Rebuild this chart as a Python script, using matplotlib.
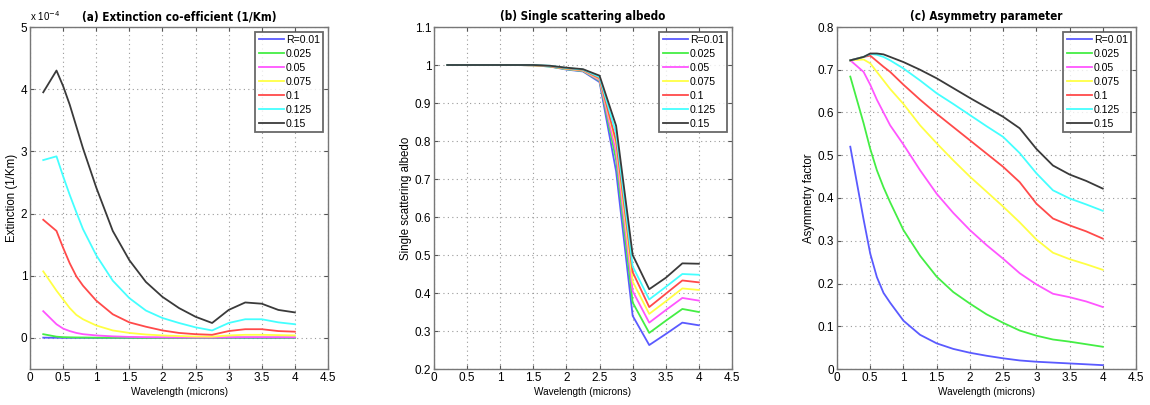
import matplotlib
matplotlib.use("Agg")
import matplotlib.pyplot as plt
from matplotlib.ticker import FuncFormatter, MultipleLocator
from matplotlib import font_manager as fm

plt.rcParams['font.family'] = ['Liberation Sans', 'DejaVu Sans']

# look for a condensed / narrow face for the titles
cond_bold = None
for f in fm.fontManager.ttflist:
    fn = f.fname.lower()
    if ('condensed' in fn or 'narrow' in fn) and 'bold' in fn and 'oblique' not in fn and 'italic' not in fn:
        cond_bold = f.fname
        break

wavelength = [0.2, 0.4, 0.5, 0.6, 0.7, 0.8, 1.0, 1.25, 1.5, 1.75, 2.0, 2.25, 2.5, 2.75, 3.0, 3.25, 3.5, 3.75, 4.0]
radii = ["R=0.01", "0.025", "0.05", "0.075", "0.1", "0.125", "0.15"]
colors = ["#5a5aff", "#44ee44", "#ff55ff", "#ffff44", "#ff4a4a", "#44ffff", "#3a3a3a"]

# (a) Extinction in units of 1e-4 1/Km
ext_001 = [0.004, 0.002, 0.001, 0.001, 0.001, 0.001, 0.0, 0.0, 0.0, 0.0, 0.0, 0.0, 0.0, 0.0, 0.001, 0.001, 0.001, 0.001, 0.001]
ext_0025 = [0.06, 0.02, 0.012, 0.009, 0.007, 0.006, 0.004, 0.003, 0.003, 0.002, 0.002, 0.002, 0.002, 0.002, 0.004, 0.005, 0.005, 0.004, 0.004]
ext_005 = [0.43, 0.22, 0.15, 0.11, 0.08, 0.06, 0.04, 0.025, 0.016, 0.012, 0.01, 0.008, 0.007, 0.006, 0.01, 0.012, 0.012, 0.011, 0.01]
ext_0075 = [1.07, 0.76, 0.62, 0.48, 0.37, 0.30, 0.20, 0.12, 0.08, 0.055, 0.04, 0.03, 0.022, 0.02, 0.04, 0.05, 0.05, 0.045, 0.04]
ext_01 = [1.90, 1.72, 1.45, 1.20, 0.99, 0.84, 0.60, 0.38, 0.25, 0.18, 0.12, 0.08, 0.06, 0.05, 0.11, 0.14, 0.14, 0.11, 0.10]
ext_0125 = [2.86, 2.92, 2.60, 2.30, 2.02, 1.75, 1.33, 0.92, 0.64, 0.44, 0.32, 0.24, 0.17, 0.12, 0.24, 0.30, 0.30, 0.25, 0.22]
ext_015 = [3.95, 4.30, 4.05, 3.75, 3.40, 3.05, 2.42, 1.72, 1.25, 0.90, 0.66, 0.48, 0.34, 0.24, 0.45, 0.57, 0.55, 0.45, 0.41]

# (b) Single scattering albedo
ssa_001 = [1.0, 1.0, 1.0, 1.0, 1.0, 1.0, 1.0, 1.0, 0.999, 0.996, 0.988, 0.983, 0.955, 0.72, 0.34, 0.263, 0.292, 0.322, 0.315]
ssa_0025 = [1.0, 1.0, 1.0, 1.0, 1.0, 1.0, 1.0, 1.0, 0.999, 0.996, 0.989, 0.984, 0.958, 0.75, 0.375, 0.295, 0.327, 0.358, 0.350]
ssa_005 = [1.0, 1.0, 1.0, 1.0, 1.0, 1.0, 1.0, 1.0, 0.999, 0.997, 0.990, 0.985, 0.960, 0.77, 0.405, 0.322, 0.355, 0.387, 0.380]
ssa_0075 = [1.0, 1.0, 1.0, 1.0, 1.0, 1.0, 1.0, 1.0, 0.999, 0.997, 0.990, 0.986, 0.963, 0.79, 0.430, 0.345, 0.378, 0.412, 0.408]
ssa_01 = [1.0, 1.0, 1.0, 1.0, 1.0, 1.0, 1.0, 1.0, 1.0, 0.997, 0.991, 0.987, 0.965, 0.80, 0.455, 0.363, 0.398, 0.433, 0.428]
ssa_0125 = [1.0, 1.0, 1.0, 1.0, 1.0, 1.0, 1.0, 1.0, 1.0, 0.998, 0.992, 0.988, 0.968, 0.82, 0.470, 0.383, 0.416, 0.450, 0.448]
ssa_015 = [1.0, 1.0, 1.0, 1.0, 1.0, 1.0, 1.0, 1.0, 1.0, 0.998, 0.993, 0.989, 0.972, 0.84, 0.500, 0.410, 0.440, 0.478, 0.477]

# (c) Asymmetry factor
g_001 = [0.52, 0.35, 0.27, 0.215, 0.178, 0.155, 0.113, 0.08, 0.06, 0.047, 0.038, 0.031, 0.025, 0.020, 0.017, 0.015, 0.013, 0.011, 0.009]
g_0025 = [0.684, 0.575, 0.515, 0.465, 0.425, 0.39, 0.325, 0.265, 0.216, 0.18, 0.153, 0.128, 0.108, 0.09, 0.078, 0.069, 0.064, 0.058, 0.052]
g_005 = [0.722, 0.695, 0.665, 0.63, 0.60, 0.57, 0.525, 0.465, 0.41, 0.365, 0.325, 0.29, 0.258, 0.224, 0.198, 0.176, 0.168, 0.158, 0.145]
g_0075 = [0.722, 0.724, 0.715, 0.695, 0.675, 0.655, 0.62, 0.57, 0.528, 0.488, 0.45, 0.415, 0.38, 0.343, 0.303, 0.272, 0.257, 0.245, 0.232]
g_01 = [0.722, 0.73, 0.733, 0.72, 0.707, 0.695, 0.665, 0.63, 0.597, 0.566, 0.535, 0.504, 0.473, 0.437, 0.387, 0.352, 0.336, 0.322, 0.305]
g_0125 = [0.722, 0.73, 0.737, 0.735, 0.73, 0.722, 0.703, 0.675, 0.645, 0.62, 0.594, 0.568, 0.543, 0.505, 0.458, 0.418, 0.399, 0.385, 0.37]
g_015 = [0.722, 0.73, 0.738, 0.738, 0.736, 0.73, 0.718, 0.70, 0.68, 0.657, 0.634, 0.612, 0.59, 0.563, 0.515, 0.476, 0.455, 0.44, 0.422]

ext_series = [ext_001, ext_0025, ext_005, ext_0075, ext_01, ext_0125, ext_015]
ssa_series = [ssa_001, ssa_0025, ssa_005, ssa_0075, ssa_01, ssa_0125, ssa_015]
g_series = [g_001, g_0025, g_005, g_0075, g_01, g_0125, g_015]

fig = plt.figure(figsize=(11.5, 4.05), dpi=100)
W, H = 1150.0, 405.0

def make_ax(x0, x1, y_top, y_bot):
    return fig.add_axes([x0 / W, (H - y_bot) / H, (x1 - x0) / W, (y_bot - y_top) / H])

axes = [make_ax(30, 328, 27, 369), make_ax(434, 732, 27, 369), make_ax(837, 1136, 27, 369)]
titles = ["(a) Extinction co-efficient (1/Km)", "(b) Single scattering albedo", "(c) Asymmetry parameter"]
ylabels = ["Extinction (1/Km)", "Single scattering albedo", "Asymmetry factor"]
all_series = [ext_series, ssa_series, g_series]
ylims = [(-0.5, 5), (0.2, 1.1), (0, 0.8)]
ysteps = [1, 0.1, 0.1]

fmt = FuncFormatter(lambda v, p: ("%g" % round(v, 6)))

if cond_bold is not None:
    title_kw = dict(fontproperties=fm.FontProperties(fname=cond_bold, size=8.4))
else:
    title_kw = dict(fontsize=8.4, fontweight="bold")

for ax, title, ylab, series, ylim, ystep in zip(axes, titles, ylabels, all_series, ylims, ysteps):
    for vals, col, lab in zip(series, colors, radii):
        ax.plot(wavelength, vals, color=col, lw=1.3, label=lab)
    ax.set_xlim(0, 4.5)
    ax.set_ylim(*ylim)
    ax.xaxis.set_major_locator(MultipleLocator(0.5))
    ax.yaxis.set_major_locator(MultipleLocator(ystep))
    ax.xaxis.set_major_formatter(fmt)
    ax.yaxis.set_major_formatter(fmt)
    ax.grid(True, linestyle=(0, (1, 3)), color="#9a9a9a", lw=0.8)
    ax.tick_params(direction="in", top=True, right=True, length=3, width=0.8,
                   labelsize=8.5, color="#555555", pad=2)
    for sp in ax.spines.values():
        sp.set_color("#777777")
        sp.set_linewidth(1.0)
    ax.set_title(title, pad=5, **title_kw)
    ax.set_xlabel("Wavelength (microns)", fontsize=7.2, labelpad=2)
    ax.set_ylabel(ylab, fontsize=8.3, labelpad=2)
    leg = ax.legend(loc="upper right", fontsize=7.6, frameon=True, fancybox=False,
                    handlelength=2.4, handletextpad=0.2, labelspacing=0.38,
                    borderpad=0.3, borderaxespad=0.45)
    leg.get_frame().set_edgecolor("#444444")
    leg.get_frame().set_linewidth(1.3)

axes[0].set_yticks([0, 1, 2, 3, 4, 5])
axes[0].text(0.0, 1.012, "x 10$^{-4}$", transform=axes[0].transAxes, fontsize=7,
             ha="left", va="bottom")

fig.savefig("out.png", dpi=100)
